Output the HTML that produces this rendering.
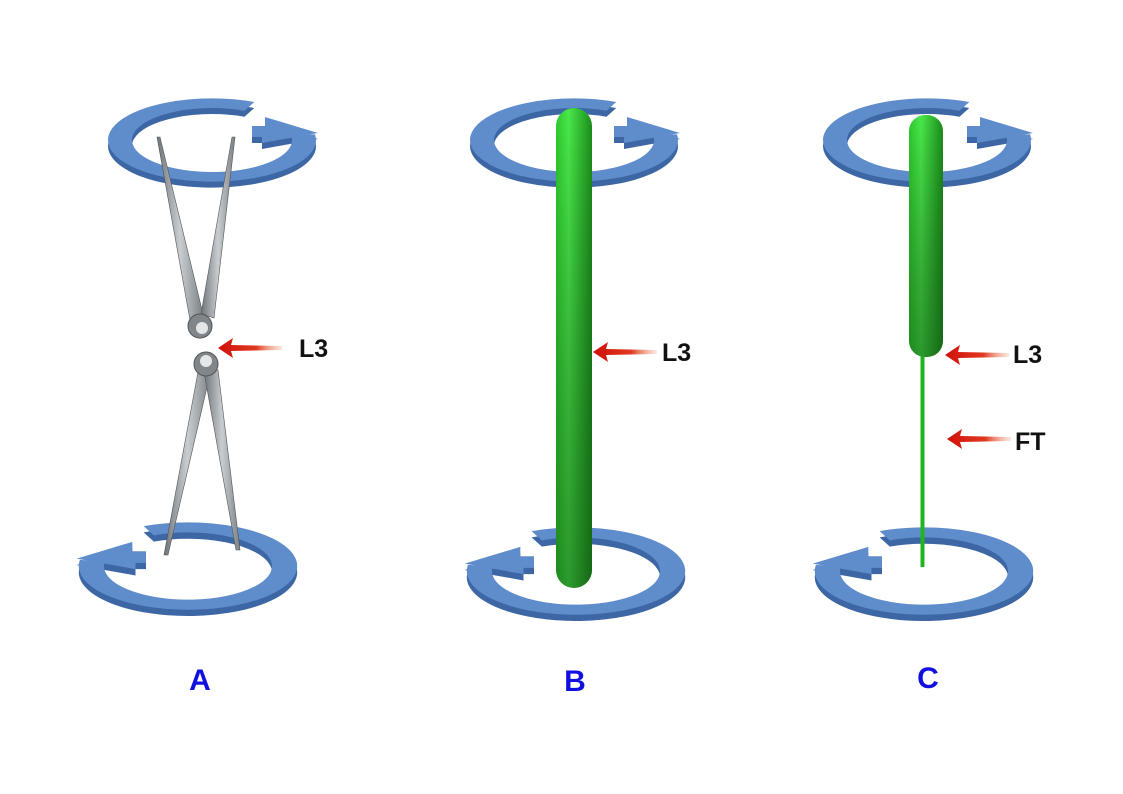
<!DOCTYPE html>
<html><head><meta charset="utf-8"><style>
html,body{margin:0;padding:0;background:#fff;width:1123px;height:794px;overflow:hidden}
svg{display:block}
text{font-family:"Liberation Sans",Arial,sans-serif;font-weight:bold}
</style></head><body>
<svg width="1123" height="794" viewBox="0 0 1123 794" xmlns="http://www.w3.org/2000/svg">
<defs>
<linearGradient id="rodg" x1="0" y1="0" x2="1" y2="0">
<stop offset="0" stop-color="#2fc92f"/><stop offset="0.35" stop-color="#49e84a"/><stop offset="1" stop-color="#1c8f1c"/>
</linearGradient>
<linearGradient id="rodv" x1="0" y1="0" x2="0" y2="1">
<stop offset="0" stop-color="#000" stop-opacity="0"/><stop offset="1" stop-color="#0a3a0a" stop-opacity="0.45"/>
</linearGradient>
<linearGradient id="steel" x1="0" y1="0" x2="1" y2="0">
<stop offset="0" stop-color="#6d7378"/><stop offset="0.5" stop-color="#c9cdd0"/><stop offset="1" stop-color="#7b8186"/>
</linearGradient>
<linearGradient id="redg" x1="0" y1="0" x2="1" y2="0">
<stop offset="0" stop-color="#d0100c"/><stop offset="0.6" stop-color="#e03a20"/><stop offset="1" stop-color="#f0b090" stop-opacity="0.3"/>
</linearGradient>
<g id="ring">
  <g transform="translate(0,6)">
    <g transform="scale(1,0.4)">
      <path d="M91.1,-12.8 A92,92 0 1 1 37.4,-84" fill="none" stroke="#3d67a4" stroke-width="24"/>
    </g>
    <polygon points="53,-23 106,-7 50,3 50,-3 40,-3 40,-14 53,-14" fill="#3d67a4"/>
  </g>
  <g transform="scale(1,0.4)">
    <path d="M91.1,-12.8 A92,92 0 1 1 37.4,-84" fill="none" stroke="#5f8dcc" stroke-width="24"/>
  </g>
  <polygon points="53,-23 106,-7 50,3 50,-3 40,-3 40,-14 53,-14" fill="#5f8dcc"/>
</g>
<g id="redarrow">
  <polygon points="0,0 15,-10 13,-3 64,-2 64,2 13,3 15,10" fill="url(#redg)"/>
</g>
</defs>

<use href="#ring" transform="translate(212,140)"/>
<use href="#ring" transform="translate(574,140)"/>
<use href="#ring" transform="translate(927,140)"/>
<use href="#ring" transform="translate(188,566) scale(-1.05,1.05)"/>
<use href="#ring" transform="translate(576,571) scale(-1.05,1.05)"/>
<use href="#ring" transform="translate(924,571) scale(-1.05,1.05)"/>

<!-- Pliers A upper -->
<polygon points="157,137 160,137 203,314 190,320" fill="url(#steel)" stroke="#555" stroke-width="0.6"/>
<polygon points="232,137 235,137 214,318 201,314" fill="url(#steel)" stroke="#555" stroke-width="0.6"/>
<circle cx="200" cy="326" r="12" fill="#80868a" stroke="#555"/>
<circle cx="202" cy="328" r="6" fill="#e4e6e8"/>
<!-- Pliers A lower -->
<polygon points="198,372 211,370 168,555 164,555" fill="url(#steel)" stroke="#555" stroke-width="0.6"/>
<polygon points="204,372 218,370 240,550 236,550" fill="url(#steel)" stroke="#555" stroke-width="0.6"/>
<circle cx="206" cy="364" r="12" fill="#80868a" stroke="#555"/>
<circle cx="206" cy="361" r="6" fill="#e4e6e8"/>

<rect x="556" y="108" width="36" height="480" rx="18" fill="url(#rodg)"/>
<rect x="556" y="108" width="36" height="480" rx="18" fill="url(#rodv)"/>
<rect x="920.5" y="350" width="4" height="217" fill="#1fb51f"/>
<rect x="909" y="115" width="34" height="242" rx="16" fill="url(#rodg)"/>
<rect x="909" y="115" width="34" height="242" rx="16" fill="url(#rodv)"/>

<use href="#redarrow" transform="translate(218,348)"/>
<use href="#redarrow" transform="translate(593,352)"/>
<use href="#redarrow" transform="translate(945,355)"/>
<use href="#redarrow" transform="translate(947,439)"/>

<text x="299" y="357" font-size="25" fill="#111">L3</text>
<text x="662" y="361" font-size="25" fill="#111">L3</text>
<text x="1013" y="363" font-size="25" fill="#111">L3</text>
<text x="1015" y="450" font-size="25" fill="#111">FT</text>

<text x="200" y="690" font-size="30" fill="#1010e0" text-anchor="middle">A</text>
<text x="575" y="691" font-size="30" fill="#1010e0" text-anchor="middle">B</text>
<text x="928" y="688" font-size="30" fill="#1010e0" text-anchor="middle">C</text>
</svg>
</body></html>
